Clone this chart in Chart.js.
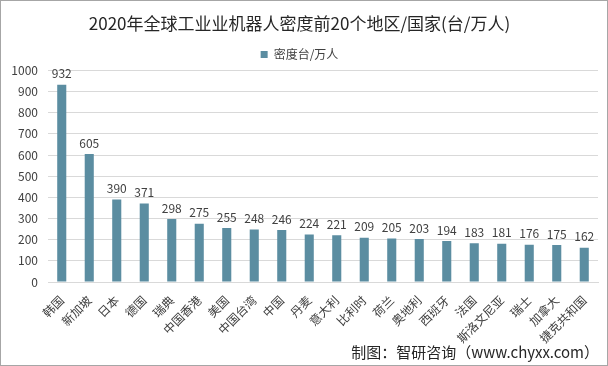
<!DOCTYPE html>
<html>
<head>
<meta charset="utf-8">
<script src="https://cdn.jsdelivr.net/npm/chart.js@4"></script>
<style>
  html, body { margin: 0; padding: 0; background: #fff; }
  #wrap { width: 606px; height: 364px; border: 1px solid #a6a6a6; position: relative; }
  canvas { display: block; }
</style>
</head>
<body>
<div id="wrap"><canvas id="chart" width="606" height="364"></canvas></div>
<script>
// ================= DATA =================
const categories = ["韩国", "新加坡", "日本", "德国", "瑞典", "中国香港", "美国", "中国台湾", "中国", "丹麦",
    "意大利", "比利时", "荷兰", "奥地利", "西班牙", "法国", "斯洛文尼亚", "瑞士", "加拿大", "捷克共和国"];
const density = [932, 605, 390, 371, 298, 275, 255, 248, 246, 224, 221, 209, 205, 203, 194, 183, 181, 176, 175, 162];
const yTicks = [0, 100, 200, 300, 400, 500, 600, 700, 800, 900, 1000];

const FONT = "'Noto Sans CJK SC', 'Noto Sans', sans-serif";

// value labels above bars
const valueLabels = {
    id: "valueLabels",
    afterDatasetsDraw(chart) {
        const ctx = chart.ctx;
        const meta = chart.getDatasetMeta(0);
        ctx.save();
        ctx.font = "12px " + FONT;
        ctx.fillStyle = "#404040";
        ctx.textAlign = "center";
        ctx.textBaseline = "bottom";
        meta.data.forEach((bar, i) => {
            ctx.fillText(density[i], bar.x, bar.y - 5);
        });
        ctx.restore();
    }
};

// source note in the bottom right
const sourceNote = {
    id: "sourceNote",
    afterDraw(chart) {
        const ctx = chart.ctx;
        ctx.save();
        ctx.font = "15px " + FONT;
        ctx.fillStyle = "#262626";
        ctx.textAlign = "right";
        ctx.textBaseline = "middle";
        ctx.fillText("制图：智研咨询（www.chyxx.com）", 598, 351);
        ctx.restore();
    }
};

const ctx = document.getElementById("chart").getContext("2d");
new Chart(ctx, {
    type: "bar",
    data: {
        labels: categories,
        datasets: [{
            label: "密度台/万人",
            data: density,
            backgroundColor: "#5b8da1",
            barPercentage: 0.33,
            categoryPercentage: 1.0
        }]
    },
    options: {
        responsive: false,
        animation: false,
        layout: { padding: { left: 0, right: 9, top: 6, bottom: 0 } },
        plugins: {
            title: {
                display: true,
                text: "2020年全球工业业机器人密度前20个地区/国家(台/万人)",
                color: "#262626",
                font: { family: FONT, size: 17, weight: "normal" },
                padding: { top: 6, bottom: 10 }
            },
            legend: {
                display: true,
                labels: {
                    boxWidth: 7,
                    boxHeight: 7,
                    color: "#404040",
                    font: { family: FONT, size: 12 },
                    padding: 5
                }
            },
            tooltip: { enabled: false }
        },
        scales: {
            x: {
                grid: { display: false },
                border: { color: "#d9d9d9" },
                afterFit(axis) { axis.height = 83; },
                ticks: {
                    color: "#404040",
                    font: { family: FONT, size: 12 },
                    maxRotation: 45,
                    minRotation: 45,
                    autoSkip: false,
                    padding: 3
                }
            },
            y: {
                min: 0,
                max: 1000,
                afterBuildTicks(axis) {
                    axis.ticks = yTicks.map(v => ({ value: v }));
                },
                afterFit(axis) { axis.width = 47; },
                grid: { color: "#d9d9d9", drawTicks: false },
                border: { display: false },
                ticks: {
                    color: "#404040",
                    font: { family: FONT, size: 12 },
                    padding: 10,
                    callback: v => String(v)
                }
            }
        }
    },
    plugins: [valueLabels, sourceNote]
});
</script>
</body>
</html>
